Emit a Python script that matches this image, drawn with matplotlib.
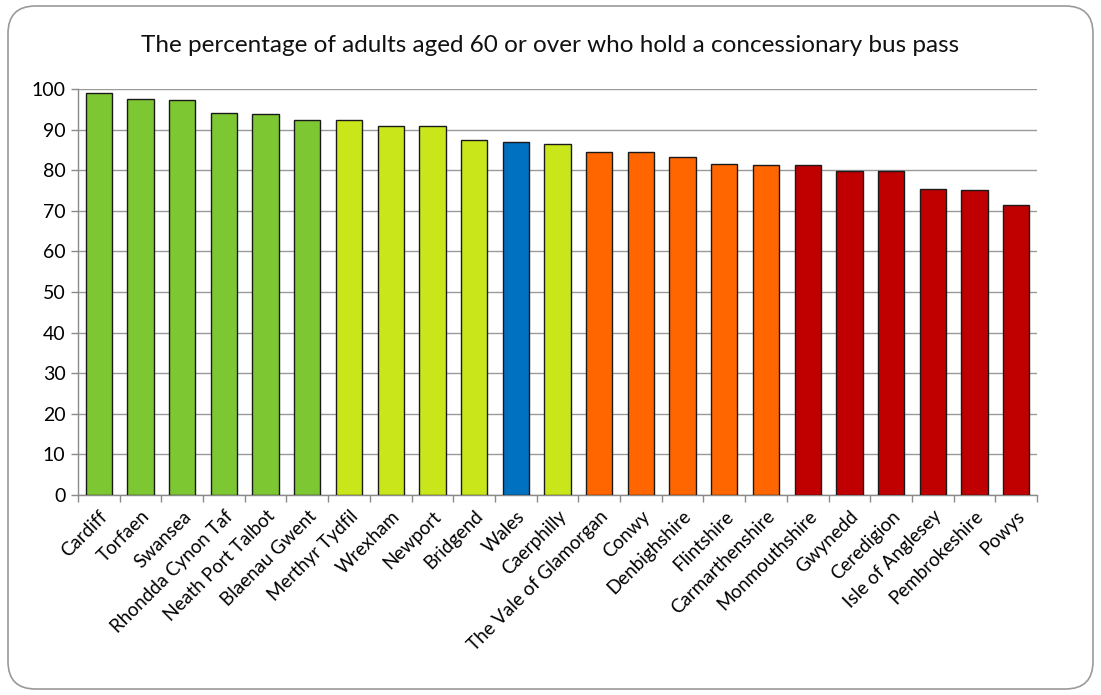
import matplotlib
matplotlib.use("Agg")
import matplotlib.pyplot as plt
from matplotlib.patches import FancyBboxPatch
import numpy as np

plt.rcParams['font.family'] = ['Lato', 'DejaVu Sans']

categories = ["Cardiff", "Torfaen", "Swansea", "Rhondda Cynon Taf", "Neath Port Talbot",
              "Blaenau Gwent", "Merthyr Tydfil", "Wrexham", "Newport", "Bridgend", "Wales",
              "Caerphilly", "The Vale of Glamorgan", "Conwy", "Denbighshire", "Flintshire",
              "Carmarthenshire", "Monmouthshire", "Gwynedd", "Ceredigion", "Isle of Anglesey",
              "Pembrokeshire", "Powys"]
values = [98.9, 97.5, 97.2, 94.1, 93.8, 92.4, 92.3, 90.9, 90.9, 87.5, 86.9,
          86.4, 84.4, 84.4, 83.3, 81.6, 81.2, 81.3, 79.9, 79.9, 75.3, 75.0, 71.5]
groups = ["g"] * 6 + ["y"] * 4 + ["b"] + ["y"] + ["o"] * 5 + ["r"] * 6
palette = {"g": "#7DC832", "y": "#C8E61A", "b": "#0070C0", "o": "#FF6600", "r": "#C00000"}
yticks = list(range(0, 101, 10))
title = "The percentage of adults aged 60 or over who hold a concessionary bus pass"

fig = plt.figure(figsize=(11.01, 6.95), dpi=100)
fig.patch.set_facecolor("white")
border = FancyBboxPatch((8 / 1101, 6 / 695), 1085 / 1101, 683 / 695,
                        boxstyle="round,pad=0,rounding_size=0.025",
                        transform=fig.transFigure, facecolor="white",
                        edgecolor="#9A9A9A", linewidth=1.2, mutation_aspect=1101 / 695,
                        zorder=-10)
fig.patches.append(border)

ax = fig.add_axes([78 / 1101, 1 - 495 / 695, (1037 - 78) / 1101, (495 - 89) / 695])
ax.set_facecolor("none")
ax.set_zorder(5)
x = np.arange(len(categories))
ax.bar(x, values, width=0.63, color=[palette[g] for g in groups],
       edgecolor="#1a1a1a", linewidth=1.0, zorder=3)
ax.set_xlim(-0.5, len(categories) - 0.5)
ax.set_ylim(0, 100)
ax.set_yticks(yticks)
ax.set_yticklabels([str(t) for t in yticks], fontsize=14)
ax.yaxis.grid(True, color="#9A9A9A", linewidth=1.0, zorder=0)
ax.set_axisbelow(True)
ax.set_xticks(x)
ax.set_xticklabels(categories, rotation=45, ha="right", rotation_mode="anchor", fontsize=13.5)
ax.tick_params(axis="x", length=0, pad=9)
ax.set_xticks(np.arange(-0.5, len(categories), 1), minor=True)
ax.tick_params(axis="x", which="minor", length=5, color="#8A8A8A", width=1)
ax.tick_params(axis="y", length=5, color="#8A8A8A", width=1, pad=4)
for s in ["top", "right"]:
    ax.spines[s].set_visible(False)
for s in ["left", "bottom"]:
    ax.spines[s].set_color("#8A8A8A")
    ax.spines[s].set_linewidth(1.0)

fig.text(0.5, 1 - 46 / 695, title, ha="center", va="center", fontsize=17.5, color="#111111")

fig.savefig("out.png", dpi=100)
